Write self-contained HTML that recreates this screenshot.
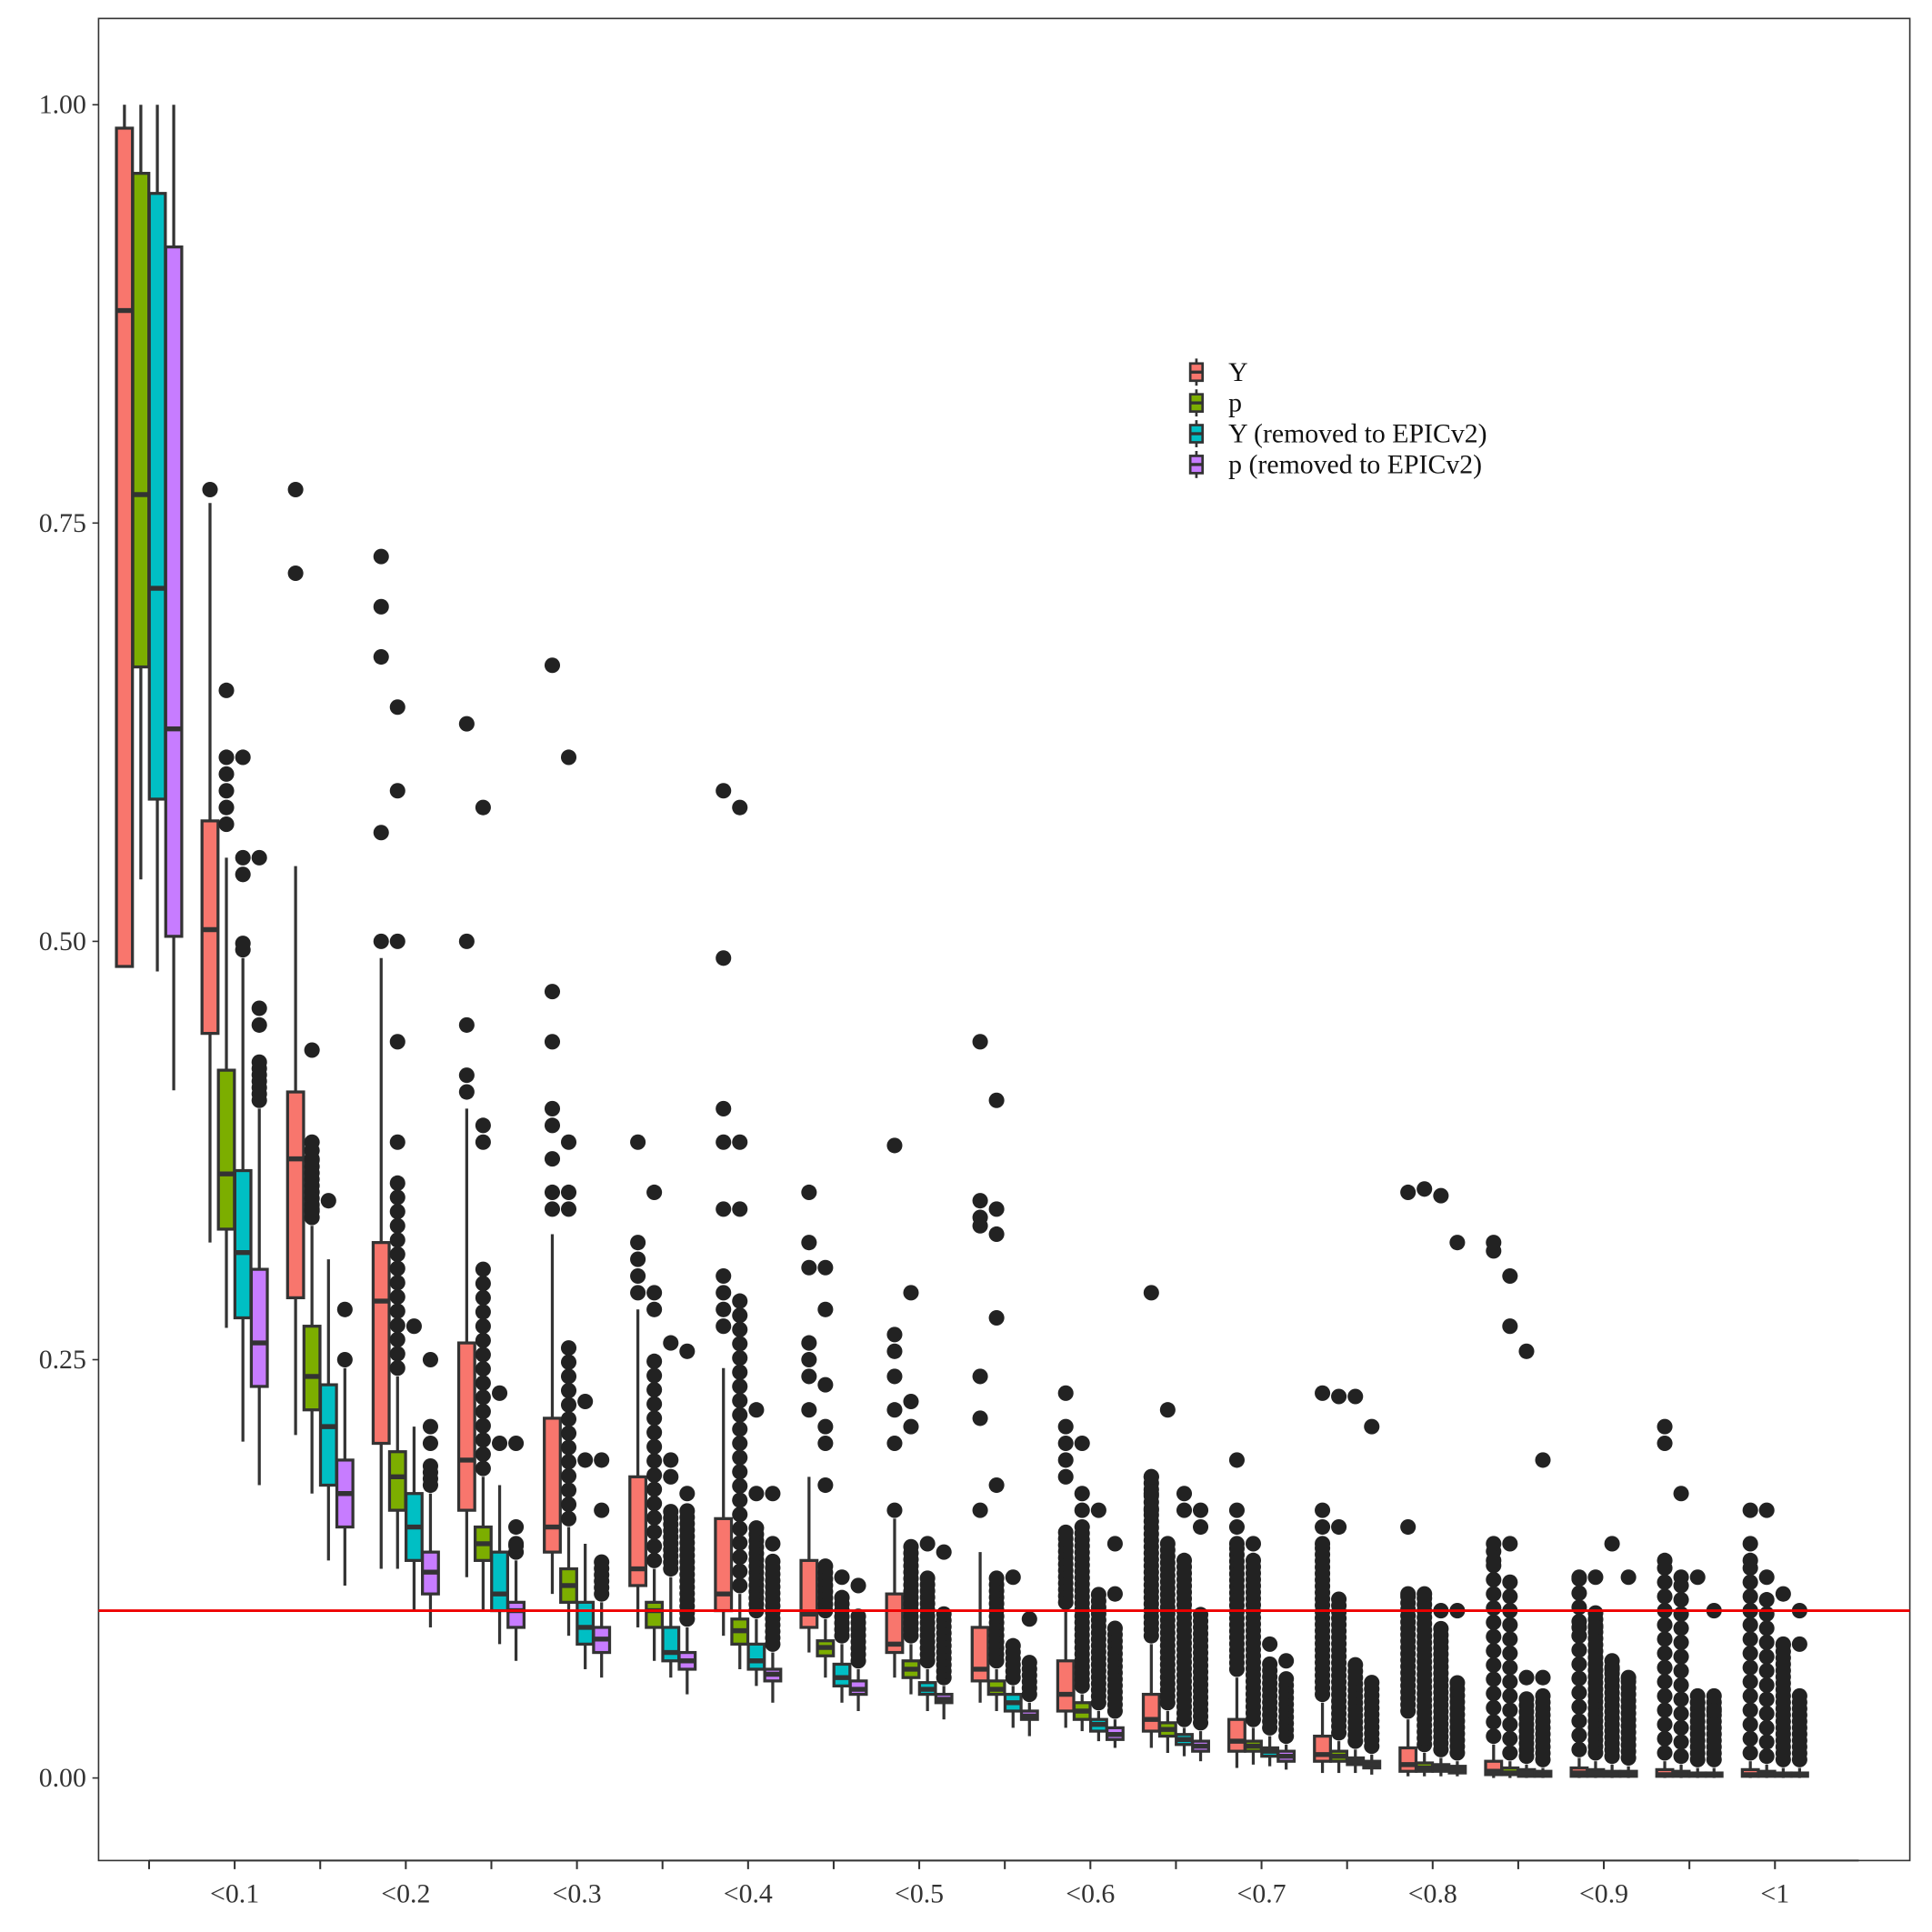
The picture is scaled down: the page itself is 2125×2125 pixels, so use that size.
<!DOCTYPE html>
<html><head><meta charset="utf-8"><style>
html,body{margin:0;padding:0;background:#fff;}
svg{display:block;font-family:"Liberation Serif",serif;}
</style></head><body>
<svg id="chart" width="2125" height="2125" viewBox="0 0 1568 1568" xmlns="http://www.w3.org/2000/svg">
<rect x="80" y="15" width="1470" height="1495" fill="#fff" stroke="#333" stroke-width="1.2"/>
<g id="axes"></g>
<g id="marks"></g>
<g id="legend"></g>
</svg>
<script>
const seriesNames = ["Y","p","Y (removed to EPICv2)","p (removed to EPICv2)"];
const colors = ["#F8766D","#7CAE00","#00BFC4","#C77CFF"];
const xLabels = ["<0.1","<0.2","<0.3","<0.4","<0.5","<0.6","<0.7","<0.8","<0.9","<1"];
const yTicks = [0,0.25,0.5,0.75,1.0];
const yTickLabels = ["0.00","0.25","0.50","0.75","1.00"];
const threshold = 0.1;
// stats per group: [series][q1, median, q3, whiskerLow, whiskerHigh]
const stats = [
 [[0.485,0.877,0.986,0.672,1.0],[0.664,0.767,0.959,0.537,1.0],[0.585,0.711,0.947,0.482,1.0],[0.503,0.627,0.915,0.411,1.0]],
 [[0.445,0.507,0.572,0.32,0.762],[0.328,0.361,0.423,0.269,0.55],[0.275,0.314,0.363,0.201,0.49],[0.234,0.26,0.304,0.175,0.40]],
 [[0.287,0.37,0.41,0.205,0.545],[0.22,0.24,0.27,0.17,0.33],[0.175,0.21,0.235,0.13,0.31],[0.15,0.17,0.19,0.115,0.245]],
 [[0.2,0.285,0.32,0.125,0.49],[0.16,0.18,0.195,0.125,0.24],[0.13,0.15,0.17,0.1,0.21],[0.11,0.123,0.135,0.09,0.17]],
 [[0.16,0.19,0.26,0.12,0.40],[0.13,0.14,0.15,0.1,0.18],[0.1,0.11,0.135,0.08,0.175],[0.09,0.1,0.105,0.07,0.13]],
 [[0.135,0.15,0.215,0.11,0.325],[0.105,0.115,0.125,0.085,0.15],[0.08,0.09,0.105,0.065,0.14],[0.075,0.083,0.09,0.06,0.105]],
 [[0.115,0.125,0.18,0.09,0.28],[0.09,0.1,0.105,0.07,0.125],[0.07,0.075,0.09,0.06,0.12],[0.065,0.07,0.075,0.05,0.09]],
 [[0.1,0.11,0.155,0.085,0.245],[0.08,0.088,0.095,0.065,0.11],[0.065,0.07,0.08,0.055,0.095],[0.058,0.062,0.065,0.045,0.075]],
 [[0.09,0.098,0.13,0.075,0.18],[0.073,0.078,0.082,0.06,0.095],[0.055,0.06,0.068,0.045,0.08],[0.05,0.053,0.058,0.04,0.065]],
 [[0.075,0.08,0.11,0.06,0.155],[0.06,0.065,0.07,0.05,0.08],[0.05,0.053,0.057,0.04,0.065],[0.045,0.047,0.05,0.035,0.055]],
 [[0.058,0.065,0.09,0.045,0.135],[0.05,0.053,0.058,0.04,0.065],[0.04,0.045,0.05,0.03,0.055],[0.035,0.037,0.04,0.025,0.045]],
 [[0.04,0.05,0.07,0.03,0.1],[0.035,0.04,0.045,0.028,0.05],[0.028,0.032,0.035,0.022,0.04],[0.023,0.026,0.03,0.018,0.035]],
 [[0.028,0.035,0.05,0.018,0.08],[0.025,0.029,0.033,0.015,0.04],[0.02,0.023,0.026,0.013,0.03],[0.016,0.019,0.022,0.01,0.028]],
 [[0.016,0.022,0.035,0.006,0.06],[0.016,0.019,0.022,0.008,0.03],[0.013,0.016,0.018,0.007,0.025],[0.01,0.013,0.016,0.005,0.02]],
 [[0.01,0.014,0.025,0.003,0.045],[0.01,0.013,0.016,0.003,0.022],[0.008,0.01,0.012,0.003,0.017],[0.006,0.008,0.01,0.002,0.014]],
 [[0.004,0.008,0.018,0.001,0.035],[0.004,0.006,0.009,0.001,0.015],[0.004,0.006,0.008,0.001,0.012],[0.003,0.005,0.007,0.001,0.01]],
 [[0.002,0.004,0.01,0,0.02],[0.002,0.003,0.006,0,0.01],[0.001,0.003,0.005,0,0.008],[0.001,0.002,0.004,0,0.006]],
 [[0.001,0.003,0.006,0,0.012],[0.001,0.003,0.005,0,0.01],[0.001,0.002,0.004,0,0.008],[0.001,0.002,0.004,0,0.007]],
 [[0.001,0.002,0.005,0,0.01],[0.001,0.002,0.004,0,0.008],[0.001,0.002,0.003,0,0.006],[0.001,0.002,0.003,0,0.006]],
 [[0.001,0.002,0.005,0,0.01],[0.001,0.002,0.004,0,0.008],[0.001,0.002,0.003,0,0.006],[0.001,0.002,0.003,0,0.006]]
];
// isolated outliers per group per series
const outliers = [
 [[],[],[],[]],
 [[0.77],[0.65,0.61,0.60,0.59,0.58,0.57],[0.61,0.55,0.54],[0.55,0.46,0.45]],
 [[0.77,0.72],[0.435,0.38,0.375,0.37,0.34],[0.345],[0.28,0.25]],
 [[0.73,0.70,0.67,0.565,0.50],[0.64,0.59,0.50,0.44,0.38],[0.27],[0.25,0.21,0.2]],
 [[0.63,0.5,0.45,0.42,0.41],[0.58,0.39,0.38],[0.23,0.2],[0.2,0.15,0.14]],
 [[0.665,0.47,0.44,0.40,0.39,0.37,0.35,0.34],[0.61,0.38,0.35,0.34],[0.225,0.19],[0.19,0.16]],
 [[0.38,0.32,0.31,0.30,0.29],[0.35,0.29,0.28],[0.26,0.19,0.18],[0.255,0.17]],
 [[0.59,0.49,0.40,0.38,0.34,0.3,0.29,0.28,0.27],[0.58,0.38,0.34],[0.22,0.17],[0.17,0.14]],
 [[0.35,0.32,0.305,0.26,0.25,0.24,0.22],[0.305,0.28,0.235,0.21,0.2,0.175],[0.12],[0.115]],
 [[0.378,0.265,0.255,0.24,0.22,0.2,0.16],[0.29,0.225,0.21],[0.14],[0.135]],
 [[0.44,0.345,0.335,0.33,0.24,0.215,0.16],[0.405,0.34,0.325,0.275,0.175],[0.12],[0.095]],
 [[0.23,0.21,0.2,0.19,0.18],[0.2,0.17,0.16],[0.16],[0.11,0.14]],
 [[0.29,0.18,0.17,0.16],[0.22],[0.17,0.16],[0.16,0.15]],
 [[0.19,0.16,0.15,0.14],[0.14],[0.08],[0.07]],
 [[0.23,0.16,0.15,0.14],[0.228,0.15],[0.228],[0.21]],
 [[0.35,0.15,0.11],[0.352,0.11],[0.348,0.1],[0.32,0.1]],
 [[0.32,0.315,0.14,0.13],[0.3,0.27,0.14],[0.255,0.06],[0.19,0.06]],
 [[0.12,0.09,0.085],[0.12,0.09],[0.14,0.065],[0.12,0.06]],
 [[0.21,0.2,0.13],[0.17,0.12],[0.12,0.045],[0.1,0.04]],
 [[0.16,0.14,0.13,0.1],[0.16,0.12],[0.11,0.08],[0.10,0.08]]
];
// upper value of dense outlier stacks (0 = none)
const denseTop = [
 [0,0,0,0],[0,0.52,0.5,0.43],[0,0.37,0,0],[0,0.36,0,0.19],[0,0.31,0,0.14],
 [0,0.26,0.13,0.13],[0,0.25,0.16,0.16],[0,0.29,0.15,0.13],[0,0.13,0.11,0.1],[0.13,0.14,0.12,0.1],
 [0.1,0.12,0.08,0.07],[0.15,0.15,0.11,0.09],[0.18,0.14,0.13,0.1],[0.14,0.13,0.07,0.06],[0.14,0.11,0.07,0.06],
 [0.11,0.11,0.09,0.06],[0.14,0.12,0.05,0.05],[0.12,0.1,0.07,0.06],[0.13,0.12,0.05,0.05],[0.13,0.11,0.08,0.05]
];
const NS="http://www.w3.org/2000/svg";
function y(v){return 1443-v*1358;}
function xg(i){return 121+69.45*i;}
const offs=[-20,-6.7,6.7,20], bw=13;
function mk(tag,attrs,parent){const e=document.createElementNS(NS,tag);for(const k in attrs)e.setAttribute(k,attrs[k]);parent.appendChild(e);return e;}
const axes=document.getElementById('axes'), marks=document.getElementById('marks'), legend=document.getElementById('legend');
yTicks.forEach((t,i)=>{
  const l=mk('line',{x1:75,x2:80,y1:y(t),y2:y(t),stroke:'#333','stroke-width':1.2},axes);
  
  
  const tx=mk('text',{x:70,y:y(t)+7,'text-anchor':'end','font-size':22,fill:'#333'},axes);
  tx.textContent=yTickLabels[i];
  
  
});
const xl=mk('line',{x1:xg(0),x2:xg(19)+68,y1:1510,y2:1510,stroke:'#333','stroke-width':1.5},axes);


for(let i=0;i<20;i++){
  const t=mk('line',{x1:xg(i),x2:xg(i),y1:1510,y2:1517,stroke:'#333','stroke-width':1.5},axes);
  
  
}
xLabels.forEach((lab,k)=>{
  const tx=mk('text',{x:xg(2*k+1),y:1544,'text-anchor':'middle','font-size':22,fill:'#333'},axes);
  tx.textContent=lab;
  
  
});
stats.forEach((g,gi)=>{
  g.forEach((s,si)=>{
    const cx=xg(gi)+offs[si];
    const [q1,md,q3,lo,hi]=s;
    const grp=mk('g',{},marks);
    
    
    mk('line',{x1:cx,x2:cx,y1:y(hi),y2:y(q3),stroke:'#333','stroke-width':2.4},grp);
    mk('line',{x1:cx,x2:cx,y1:y(q1),y2:y(lo),stroke:'#333','stroke-width':2.4},grp);
    const h=Math.max(y(q1)-y(q3),2);
    mk('rect',{x:cx-bw/2,y:y(q3),width:bw,height:h,fill:colors[si],stroke:'#333','stroke-width':2.4},grp);
    mk('line',{x1:cx-bw/2,x2:cx+bw/2,y1:y(md),y2:y(md),stroke:'#333','stroke-width':4},grp);
    const dt=denseTop[gi][si];
    if(dt>0){
      const step=(dt-hi)>0.1?0.0085:0.0038;
      for(let v=hi+0.005;v<=dt;v+=step){mk('circle',{cx:cx,cy:y(v),r:6.3,fill:'#222'},grp);}
    }
    outliers[gi][si].forEach(v=>{
      const c=mk('circle',{cx:cx,cy:y(v),r:6.3,fill:'#222'},grp);
      
      
    });
  });
});
const hl=mk('line',{x1:80,x2:1550,y1:y(threshold),y2:y(threshold),stroke:'#ee0000','stroke-width':2.2},marks);


seriesNames.forEach((n,i)=>{
  const yy=302+i*25;
  const g=mk('g',{},legend);
  
  
  mk('line',{x1:971,x2:971,y1:yy-11,y2:yy+11,stroke:'#333','stroke-width':2},g);
  mk('rect',{x:966,y:yy-7,width:10,height:14,fill:colors[i],stroke:'#333','stroke-width':2},g);
  mk('line',{x1:966,x2:976,y1:yy,y2:yy,stroke:'#333','stroke-width':2.5},g);
  const t=mk('text',{x:997,y:yy+7,'font-size':22,fill:'#111'},g);
  t.textContent=n;
});
</script>
</body></html>
